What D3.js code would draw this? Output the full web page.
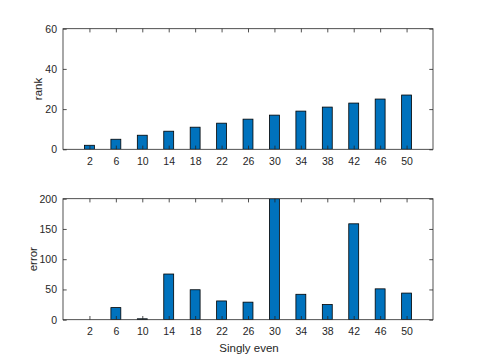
<!DOCTYPE html>
<html>
<head>
<meta charset="utf-8">
<script src="https://cdn.jsdelivr.net/npm/d3@7"></script>
<style>
html,body{margin:0;padding:0;background:#fff;}
svg{display:block;}
text{font-family:"Liberation Sans",Arial,Helvetica,sans-serif;fill:#262626;}
</style>
</head>
<body>
<svg id="chart" width="480" height="360"></svg>
<script>
const sizes = [2, 6, 10, 14, 18, 22, 26, 30, 34, 38, 42, 46, 50];
const rankValues = [2, 5, 7, 9, 11, 13, 15, 17, 19, 21, 23, 25, 27];
const errorValues = [0, 20, 1.5, 75.5, 49.5, 31, 29, 200, 42, 25, 158.5, 51, 44];
const rankTicks = [0, 20, 40, 60];
const errorTicks = [0, 50, 100, 150, 200];
const xLabel = "Singly even";

const svg = d3.select("#chart");
const left = 63, right = 433;
const x = d3.scaleLinear().domain([-2, 54]).range([left, right]);
const barW = 1.5;

function panel(top, bottom, values, yMax, ticks, yLabel, id, labelX) {
  const y = d3.scaleLinear().domain([0, yMax]).range([bottom, top]);
  const g = svg.append("g");
  g.append("clipPath").attr("id", id).append("rect")
    .attr("x", left).attr("y", top).attr("width", right - left).attr("height", bottom - top);
  g.append("g").attr("clip-path", `url(#${id})`)
    .selectAll("rect").data(sizes).join("rect")
    .attr("x", (d) => x(d - barW / 2))
    .attr("width", x(barW) - x(0))
    .attr("y", (d, i) => y(values[i]))
    .attr("height", (d, i) => y(0) - y(values[i]))
    .attr("fill", "#0072BD")
    .attr("stroke", "#000")
    .attr("stroke-width", 0.8);

  const tl = 3.7;
  const ax = d3.axisBottom(x).tickValues(sizes).tickSizeInner(-tl).tickSizeOuter(0).tickPadding(8);
  const gx = g.append("g").attr("transform", `translate(0,${bottom})`).call(ax);
  const gxt = g.append("g").attr("transform", `translate(0,${top})`)
    .call(d3.axisTop(x).tickValues(sizes).tickSizeInner(-tl).tickSizeOuter(0).tickFormat(""));
  const ay = d3.axisLeft(y).tickValues(ticks).tickSizeInner(-tl).tickSizeOuter(0).tickPadding(6);
  const gy = g.append("g").attr("transform", `translate(${left},0)`).call(ay);
  const gyr = g.append("g").attr("transform", `translate(${right},0)`)
    .call(d3.axisRight(y).tickValues(ticks).tickSizeInner(-tl).tickSizeOuter(0).tickFormat(""));
  [gx, gxt, gy, gyr].forEach((a) => {
    a.select(".domain").remove();
    a.selectAll("line").attr("stroke", "#262626").attr("stroke-width", 0.8);
    a.selectAll("text").attr("fill", "#262626").style("font-size", "10.5px")
      .style("font-family", '"Liberation Sans",Arial,sans-serif');
  });
  g.append("rect").attr("x", left).attr("y", top).attr("width", right - left)
    .attr("height", bottom - top).attr("fill", "none").attr("stroke", "#262626").attr("stroke-width", 0.8);
  g.append("text").attr("transform", `translate(${labelX},${(top + bottom) / 2}) rotate(-90)`)
    .attr("text-anchor", "middle").style("font-size", "11.5px").text(yLabel);
}

panel(28.7, 149.3, rankValues, 60, rankTicks, "rank", "c1", 42);
panel(198.7, 319.7, errorValues, 200, errorTicks, "error", "c2", 37);

svg.append("text").attr("x", (left + right) / 2 + 1).attr("y", 352)
  .attr("text-anchor", "middle").style("font-size", "11.5px").text(xLabel);
</script>
</body>
</html>
